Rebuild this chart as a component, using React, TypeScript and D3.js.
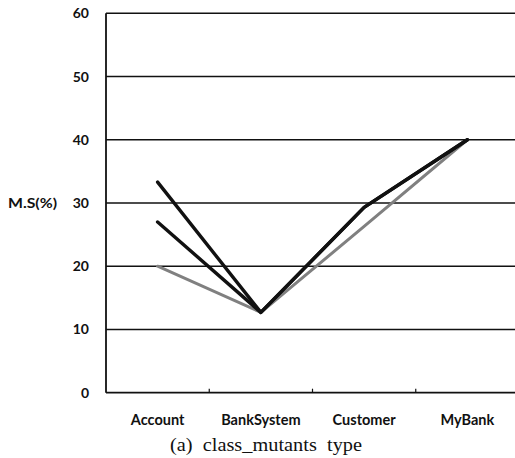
import React from "react";
import * as d3 from "d3";

const categories = ["Account", "BankSystem", "Customer", "MyBank"];
const seriesA = [33.3, 12.7, 29.3, 40];
const seriesB = [27.0, 12.7, 29.3, 40];
const seriesC = [20.0, 12.7, 26.3, 40];
const yTicks = [0, 10, 20, 30, 40, 50, 60];
const yLabel = "M.S(%)";
const caption = "(a)  class_mutants  type";

export default function App() {
  const W = 515, H = 458;
  const left = 106, right = 519, top = 13.3, bottom = 392.7;
  const x = d3.scaleBand<string>().domain(categories).range([left, right]);
  const y = d3.scaleLinear().domain([0, 60]).range([bottom, top]);
  const cx = (c: string) => (x(c) as number) + x.bandwidth() / 2;
  const line = d3.line<number>().x((_, i) => cx(categories[i])).y((v) => y(v));
  const font = "Lato, 'Open Sans', sans-serif";
  const series = [
    { v: seriesC, c: "#808080", w: 3 },
    { v: seriesB, c: "#111", w: 3.4 },
    { v: seriesA, c: "#111", w: 3.4 },
  ];
  return (
    <svg width={W} height={H} style={{ position: "absolute", left: 0, top: 0, background: "#fff" }}>
      {yTicks.filter((t) => t > 0).map((t) => (
        <line key={t} x1={left} x2={W} y1={y(t)} y2={y(t)} stroke="#111" strokeWidth={1.6} />
      ))}
      <line x1={left} x2={left} y1={top} y2={bottom} stroke="#111" strokeWidth={1.8} />
      <line x1={left} x2={W} y1={bottom} y2={bottom} stroke="#111" strokeWidth={1.8} />
      {categories.slice(1).map((c) => (
        <line key={c} x1={x(c) as number} x2={x(c) as number} y1={bottom} y2={bottom - 4} stroke="#111" strokeWidth={1.2} />
      ))}
      {yTicks.map((t) => (
        <text key={t} x={89} y={y(t) + 5} textAnchor="end" fontFamily={font} fontWeight="bold" fontSize={14} fill="#111">
          {t}
        </text>
      ))}
      <text x={8} y={208} fontFamily={font} fontWeight="bold" fontSize={14} fill="#111" textLength={49} lengthAdjust="spacingAndGlyphs">{yLabel}</text>
      {categories.map((c) => (
        <text key={c} x={cx(c)} y={425} textAnchor="middle" fontFamily={font} fontWeight="bold" fontSize={14.5} fill="#111">
          {c}
        </text>
      ))}
      {series.map((s, i) => (
        <path key={i} d={line(s.v) as string} fill="none" stroke={s.c} strokeWidth={s.w} strokeLinejoin="round" strokeLinecap="round" />
      ))}
      <text x={170} y={451} fontFamily="'Liberation Serif', 'DejaVu Serif', serif" fontSize={19} fill="#111" style={{ whiteSpace: "pre" }} textLength={192} lengthAdjust="spacingAndGlyphs">
        {caption}
      </text>
    </svg>
  );
}
